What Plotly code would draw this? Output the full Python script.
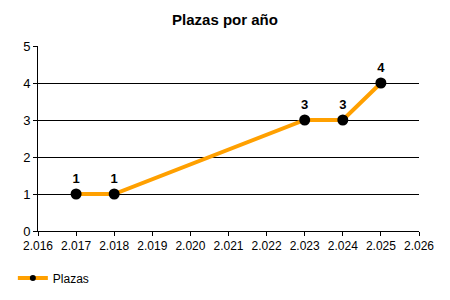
import plotly.graph_objects as go

years = [2017, 2018, 2023, 2024, 2025]
plazas = [1, 1, 3, 3, 4]
x_ticks = [2016, 2017, 2018, 2019, 2020, 2021, 2022, 2023, 2024, 2025, 2026]
x_tick_labels = ["2.016", "2.017", "2.018", "2.019", "2.020", "2.021",
                 "2.022", "2.023", "2.024", "2.025", "2.026"]
y_ticks = [0, 1, 2, 3, 4, 5]
series_name = "Plazas"
title = "Plazas por año"

font = "Liberation Sans, Arial, sans-serif"
line_color = "#FFA000"

fig = go.Figure()
fig.add_trace(go.Scatter(
    x=years, y=plazas, name=series_name, showlegend=False,
    mode="lines+markers+text",
    line=dict(color=line_color, width=4),
    marker=dict(color="black", size=11),
    text=[str(v) for v in plazas],
    textposition="top center",
    textfont=dict(family=font, size=13, color="black", weight="bold"),
    cliponaxis=False,
))
# legend entry (smaller marker, as in the reference legend)
fig.add_trace(go.Scatter(
    x=[None], y=[None], name=series_name, showlegend=True,
    mode="lines+markers",
    line=dict(color=line_color, width=4),
    marker=dict(color="black", size=6),
))

fig.update_layout(
    width=450, height=300,
    margin=dict(l=38, r=31, t=46, b=69, autoexpand=False),
    paper_bgcolor="white", plot_bgcolor="white",
    font=dict(family=font, size=12, color="black"),
    title=dict(text="<b>" + title + "</b>", x=0.5, xanchor="center",
               y=1 - 20 / 300, yanchor="middle",
               font=dict(family=font, size=15, color="black")),
    showlegend=True,
    legend=dict(orientation="h", x=-0.066, y=-0.254, xanchor="left", yanchor="middle",
                font=dict(family=font, size=12, color="black"),
                bgcolor="rgba(0,0,0,0)"),
    xaxis=dict(range=[2016, 2026], tickvals=x_ticks, ticktext=x_tick_labels,
               showgrid=False, zeroline=False, showline=True, linecolor="black",
               linewidth=1, ticks="outside", ticklen=4, tickcolor="black",
               automargin=False,
               tickfont=dict(family=font, size=12, color="black")),
    yaxis=dict(range=[0, 5], tickvals=y_ticks,
               showgrid=True, gridcolor="black", gridwidth=1,
               zeroline=False, showline=True, linecolor="black", linewidth=1,
               ticks="outside", ticklen=4, tickcolor="black",
               automargin=False,
               tickfont=dict(family=font, size=13, color="black")),
)

fig.write_html("out.html")
